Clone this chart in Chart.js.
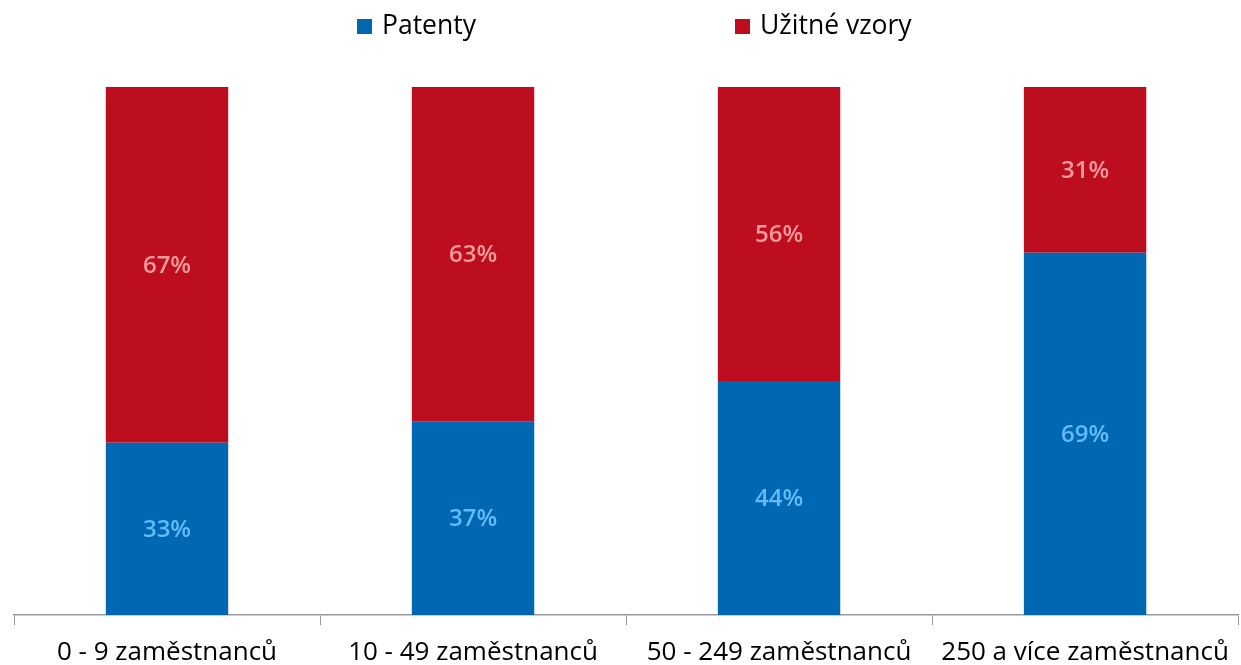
<!DOCTYPE html>
<html>
<head>
<meta charset="utf-8">
<script src="https://cdn.jsdelivr.net/npm/chart.js@4"></script>
<style>
  html, body { margin: 0; padding: 0; background: #fff; }
  #wrap { width: 1241px; height: 665px; }
</style>
</head>
<body>
<div id="wrap"><canvas id="chart" width="1241" height="665"></canvas></div>
<script>
// ===== Data =====
const categories = ["0 - 9 zaměstnanců", "10 - 49 zaměstnanců", "50 - 249 zaměstnanců", "250 a více zaměstnanců"];
const patenty = [32.6, 36.6, 44.3, 68.6];
const uzitneVzory = [67.4, 63.4, 55.7, 31.4];
const seriesNames = ["Patenty", "Užitné vzory"];

const FONT = "'Open Sans', sans-serif";

// ===== Labels inside bars =====
const barLabels = {
  id: "barLabels",
  afterDatasetsDraw(chart) {
    const ctx = chart.ctx;
    ctx.save();
    ctx.font = "600 24px " + FONT;
    ctx.textAlign = "center";
    ctx.textBaseline = "middle";
    chart.data.datasets.forEach((ds, i) => {
      chart.getDatasetMeta(i).data.forEach((bar, j) => {
        const mid = (bar.y + bar.base) / 2;
        ctx.fillStyle = ds.labelColor;
        ctx.fillText(Math.round(ds.data[j]) + "%", bar.x, mid + 1);
      });
    });
    ctx.restore();
  }
};

// ===== Legend (wide spacing like the original) =====
const topLegend = {
  id: "topLegend",
  afterDraw(chart) {
    const ctx = chart.ctx;
    const boxX = [357, 735];
    ctx.save();
    ctx.font = "26.5px " + FONT;
    ctx.textBaseline = "middle";
    chart.data.datasets.forEach((ds, i) => {
      ctx.fillStyle = ds.backgroundColor;
      ctx.fillRect(boxX[i], 19, 15, 15);
      ctx.fillStyle = "#000";
      ctx.fillText(ds.label, boxX[i] + 25, 26);
    });
    ctx.restore();
  }
};

new Chart(document.getElementById("chart").getContext("2d"), {
  type: "bar",
  data: {
    labels: categories,
    datasets: [
      { label: seriesNames[0], data: patenty, backgroundColor: "#0068b3", labelColor: "#62baf8" },
      { label: seriesNames[1], data: uzitneVzory, backgroundColor: "#bd0e20", labelColor: "#f59a9a" }
    ]
  },
  options: {
    responsive: false,
    animation: false,
    layout: { padding: { left: 14, right: 1, top: 87, bottom: 0 } },
    datasets: { bar: { categoryPercentage: 1, barPercentage: 0.4 } },
    plugins: {
      legend: { display: false },
      tooltip: { enabled: false }
    },
    scales: {
      x: {
        stacked: true,
        grid: { offset: true, drawOnChartArea: false, drawTicks: true, tickLength: 10, color: "#999" },
        border: { color: "#999", width: 1.5 },
        ticks: { color: "#000", font: { family: FONT, size: 26 }, padding: 12, maxRotation: 0 },
        afterFit(scale) { scale.height = 50; }
      },
      y: {
        stacked: true, display: false, min: 0, max: 100
      }
    }
  },
  plugins: [barLabels, topLegend]
});
</script>
</body>
</html>
